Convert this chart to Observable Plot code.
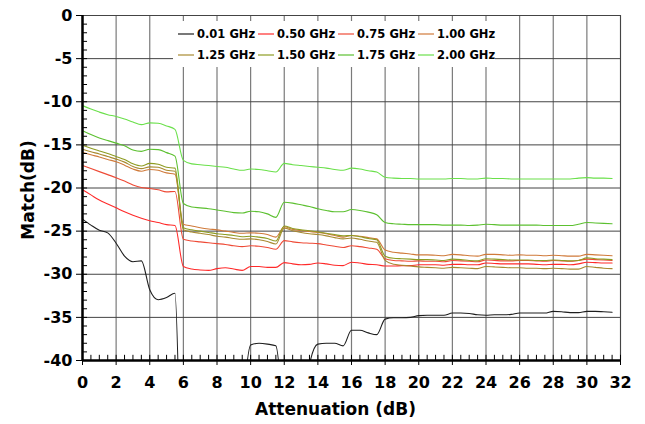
<!DOCTYPE html>
<html>
<head>
<meta charset="utf-8">
<script src="https://cdn.jsdelivr.net/npm/d3@7"></script>
<script src="https://cdn.jsdelivr.net/npm/@observablehq/plot@0.6"></script>
<style>
  html, body { margin: 0; padding: 0; background: #fff; }
  #chart { width: 645px; height: 424px; }
</style>
</head>
<body>
<div id="chart"></div>
<script>
// Attenuation setting (dB)
const attenuation = [0,0.5,1,1.5,2,2.5,3,3.5,4,4.5,5,5.5,6,6.5,7,7.5,8,8.5,9,9.5,10,10.5,11,11.5,
  12,12.5,13,13.5,14,14.5,15,15.5,16,16.5,17,17.5,18,18.5,19,19.5,20,20.5,21,21.5,22,22.5,23,23.5,
  24,24.5,25,25.5,26,26.5,27,27.5,28,28.5,29,29.5,30,30.5,31,31.5];

const seriesNames = ["0.01 GHz","0.50 GHz","0.75 GHz","1.00 GHz","1.25 GHz","1.50 GHz","1.75 GHz","2.00 GHz"];
const seriesColors = ["#1e1e1e","#ff2a2a","#ee4a36","#d07a3a","#a88a30","#8e9c22","#5cc030","#6ae04a"];

// Match (dB), one value per attenuation step (values below -40 fall off the chart)
const m001 = [-23.6,-24.3,-24.9,-25.2,-26.4,-27.9,-28.55,-28.45,-31.8,-32.95,-32.7,-32.2,
  -60,-60,-60,-60,-60,-60,-60,-46,-38.2,-38.0,-38.1,-38.3,
  -48,-60,-52,-40.5,-38.1,-38.0,-38.0,-38.3,-36.5,-36.5,-36.8,-37.0,
  -35.2,-35.05,-35.05,-35.0,-34.8,-34.75,-34.75,-34.75,-34.5,-34.5,-34.55,-34.7,
  -34.75,-34.7,-34.7,-34.65,-34.5,-34.5,-34.5,-34.5,-34.3,-34.35,-34.45,-34.45,
  -34.3,-34.3,-34.35,-34.4];
const m050 = [-20.2,-20.8,-21.4,-21.85,-22.3,-22.75,-23.15,-23.5,-23.8,-24.0,-24.25,-24.35,
  -29.1,-29.4,-29.5,-29.55,-29.35,-29.25,-29.4,-29.55,-29.1,-29.1,-29.2,-29.2,
  -28.65,-28.8,-28.9,-28.85,-28.7,-28.8,-28.95,-29.0,-28.6,-28.7,-28.85,-28.9,
  -29.05,-29.05,-29.0,-29.0,-28.9,-28.9,-28.9,-28.95,-28.85,-28.85,-28.9,-28.9,
  -28.7,-28.75,-28.8,-28.8,-28.8,-28.8,-28.85,-28.9,-28.85,-28.85,-28.9,-28.8,
  -28.6,-28.65,-28.7,-28.7];
const m075 = [-17.4,-17.75,-18.1,-18.45,-18.8,-19.2,-19.65,-19.95,-20.05,-20.2,-20.45,-20.4,
  -25.95,-26.15,-26.25,-26.35,-26.45,-26.55,-26.7,-26.8,-26.7,-26.75,-26.9,-27.1,
  -26.1,-26.25,-26.35,-26.4,-26.45,-26.6,-26.75,-26.9,-26.7,-26.8,-26.95,-27.1,
  -28.2,-28.4,-28.45,-28.5,-28.45,-28.5,-28.5,-28.55,-28.4,-28.45,-28.5,-28.55,
  -28.35,-28.4,-28.45,-28.45,-28.4,-28.4,-28.45,-28.5,-28.4,-28.45,-28.5,-28.4,
  -28.25,-28.3,-28.35,-28.4];
const m100 = [-15.85,-16.15,-16.4,-16.7,-16.95,-17.35,-17.8,-18.05,-17.85,-17.95,-18.25,-18.4,
  -24.2,-24.4,-24.6,-24.75,-24.85,-25.0,-25.15,-25.25,-25.2,-25.25,-25.4,-25.7,
  -24.5,-24.8,-24.95,-25.05,-25.15,-25.3,-25.5,-25.7,-25.5,-25.6,-25.75,-25.9,
  -27.2,-27.45,-27.55,-27.65,-27.75,-27.75,-27.8,-27.85,-27.7,-27.75,-27.85,-27.9,
  -27.7,-27.7,-27.75,-27.8,-27.75,-27.8,-27.8,-27.85,-27.8,-27.85,-27.9,-27.9,
  -27.7,-27.75,-27.8,-27.85];
const m125 = [-15.5,-15.8,-16.05,-16.35,-16.65,-17.0,-17.5,-17.75,-17.55,-17.6,-17.95,-18.05,
  -24.85,-25.1,-25.25,-25.4,-25.6,-25.7,-25.85,-25.95,-25.9,-26.0,-26.2,-26.5,
  -24.65,-24.95,-25.15,-25.3,-25.4,-25.55,-25.75,-25.9,-25.8,-25.95,-26.15,-26.3,
  -28.4,-28.85,-28.95,-29.05,-29.15,-29.2,-29.25,-29.3,-29.2,-29.25,-29.3,-29.35,
  -29.1,-29.15,-29.2,-29.25,-29.25,-29.3,-29.3,-29.35,-29.3,-29.35,-29.4,-29.4,
  -29.1,-29.2,-29.3,-29.35];
const m150 = [-15.05,-15.4,-15.7,-16.0,-16.35,-16.7,-17.2,-17.45,-17.15,-17.25,-17.6,-17.7,
  -24.6,-24.85,-25.0,-25.15,-25.3,-25.4,-25.5,-25.65,-25.6,-25.7,-25.85,-26.15,
  -24.4,-24.7,-24.85,-24.95,-25.1,-25.25,-25.4,-25.55,-25.5,-25.65,-25.85,-26.0,
  -27.9,-28.15,-28.2,-28.25,-28.3,-28.3,-28.35,-28.4,-28.25,-28.3,-28.4,-28.45,
  -28.2,-28.25,-28.3,-28.35,-28.35,-28.35,-28.4,-28.4,-28.35,-28.4,-28.45,-28.4,
  -28.1,-28.2,-28.25,-28.3];
const m175 = [-13.35,-13.8,-14.2,-14.5,-14.8,-15.1,-15.6,-15.75,-15.5,-15.55,-15.9,-16.3,
  -21.8,-22.2,-22.3,-22.4,-22.55,-22.7,-22.85,-22.9,-22.7,-22.75,-23.0,-23.4,
  -21.65,-21.75,-21.95,-22.15,-22.4,-22.6,-22.75,-22.75,-22.5,-22.6,-22.8,-23.1,
  -24.0,-24.15,-24.2,-24.25,-24.25,-24.25,-24.25,-24.3,-24.3,-24.3,-24.35,-24.3,
  -24.2,-24.25,-24.3,-24.3,-24.3,-24.3,-24.3,-24.35,-24.35,-24.35,-24.35,-24.2,
  -24.0,-24.05,-24.1,-24.15];
const m200 = [-10.45,-10.85,-11.2,-11.5,-11.7,-12.0,-12.35,-12.65,-12.45,-12.5,-12.8,-13.2,
  -16.8,-17.2,-17.3,-17.4,-17.5,-17.6,-17.8,-17.95,-17.8,-17.85,-18.0,-18.15,
  -17.15,-17.3,-17.4,-17.5,-17.6,-17.7,-17.85,-17.95,-17.7,-17.8,-18.0,-18.15,
  -18.75,-18.85,-18.9,-18.9,-18.95,-18.95,-18.95,-18.95,-18.9,-18.9,-18.95,-18.95,
  -18.85,-18.9,-18.9,-18.95,-18.95,-18.95,-18.95,-18.95,-18.95,-18.95,-18.95,-18.85,
  -18.8,-18.85,-18.85,-18.9];

const xTicks = [0,2,4,6,8,10,12,14,16,18,20,22,24,26,28,30,32];
const yTicks = [-40,-35,-30,-25,-20,-15,-10,-5,0];

const seriesValues = [m001, m050, m075, m100, m125, m150, m175, m200];
const rows = [];
seriesValues.forEach((vals, si) => {
  vals.forEach((v, i) => rows.push({series: seriesNames[si], att: attenuation[i], match: v}));
});

const minorY = d3.range(-40, 0, 1);
const minorX = d3.range(0, 32.01, 0.5);
const FONT = "'DejaVu Sans', Verdana, sans-serif";

const svg = Plot.plot({
  width: 645,
  height: 424,
  marginLeft: 82,
  marginRight: 25,
  marginTop: 15,
  marginBottom: 64,
  style: {fontFamily: FONT, fontWeight: "bold", background: "#fff", color: "#000"},
  x: {domain: [0, 32]},
  y: {domain: [-40, 0]},
  color: {domain: seriesNames, range: seriesColors},
  marks: [
    Plot.gridX(xTicks, {stroke: "#7a7a7a", strokeOpacity: 1, strokeWidth: 1.2}),
    Plot.gridY(yTicks, {stroke: "#444", strokeOpacity: 1, strokeWidth: 1}),
    Plot.frame({stroke: "#444"}),
    Plot.line(rows, {x: "att", y: "match", z: "series", stroke: "series", strokeWidth: 1.1, curve: "monotone-x", clip: true}),
    Plot.ruleY(minorY, {x1: 0, x2: 0.3, stroke: "#000", strokeWidth: 1}),
    Plot.ruleX(minorX, {y1: -40, y2: -39.4, stroke: "#000", strokeWidth: 1}),
    Plot.axisX({ticks: xTicks, tickSize: 5, tickPadding: 11, label: null, fontSize: 16, fontWeight: "bold", tickFormat: d => String(d)}),
    Plot.axisY({ticks: yTicks, tickSize: 6, tickPadding: 4, label: null, fontSize: 16, fontWeight: "bold", tickFormat: d => String(d)}),
    Plot.ruleX([0], {stroke: "#000", strokeWidth: 2.5}),
    Plot.ruleY([-40], {stroke: "#000", strokeWidth: 2.5}),
    Plot.text(["Attenuation (dB)"], {frameAnchor: "bottom", textAnchor: "middle", lineAnchor: "middle", dx: -16, dy: 49, fontSize: 17, fontWeight: "bold"}),
    Plot.text(["Match(dB)"], {frameAnchor: "left", textAnchor: "middle", lineAnchor: "middle", dx: -54, dy: 2, rotate: -90, fontSize: 17, fontWeight: "bold"})
  ]
});

// Legend inside the plot area
const g = d3.select(svg).append("g")
  .attr("font-family", FONT).attr("font-weight", "bold").attr("font-size", 11.5)
  .attr("text-anchor", "start");
g.append("rect").attr("x", 173).attr("y", 21).attr("width", 322).attr("height", 46).attr("fill", "#fff");
seriesNames.forEach((name, i) => {
  const col = i % 4, row = Math.floor(i / 4);
  const x0 = 178 + 80 * col, y0 = 34 + 21 * row;
  g.append("line").attr("x1", x0).attr("x2", x0 + 16).attr("y1", y0).attr("y2", y0)
    .attr("stroke", seriesColors[i]).attr("stroke-width", 1.2);
  g.append("text").attr("x", x0 + 19).attr("y", y0).attr("dy", "0.36em")
    .attr("text-anchor", "start").attr("fill", "#000").text(name);
});

document.getElementById("chart").appendChild(svg);
</script>
</body>
</html>
